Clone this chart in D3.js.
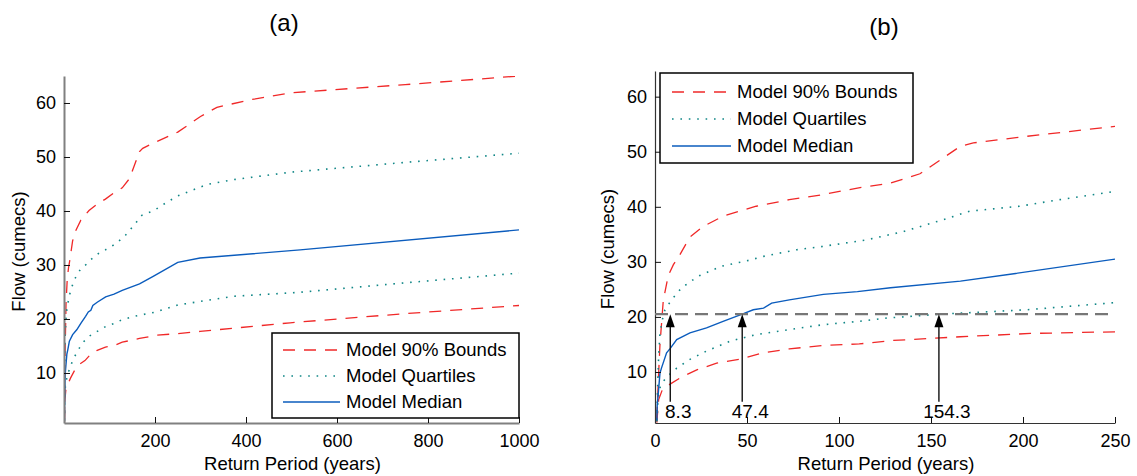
<!DOCTYPE html>
<html>
<head>
<meta charset="utf-8">
<script src="https://cdnjs.cloudflare.com/ajax/libs/d3/7.8.5/d3.min.js"></script>
<style>
  body { margin: 0; background: #fff; }
  svg { font-family: "Liberation Sans", Arial, sans-serif; }
</style>
</head>
<body>
<div class="container"></div>
<script>

// [return period (years), flow (cumecs)]
const upper90 = [[1,1.5],[1.8,8.5],[2.7,15],[4.5,23],[7.2,27.5],[10,29.5],[13,31],[19,34.5],[26,36.4],[37,38.3],[55,40.1],[73,41.3],[91,42.2],[110,43.4],[128,44.3],[144,46],[155,48.5],[166,51],[173,51.6],[202,52.8],[250,54.6],[300,57.5],[336,59.2],[410,60.6],[500,61.9],[750,63.4],[1000,65]];
const upperQuartile = [[1,1.3],[1.5,8],[2,13],[2.7,17],[4,19.5],[5.4,21.3],[9,23.1],[14.5,25.3],[23.5,27.4],[36,29.2],[50,30.2],[59,31],[77,32.2],[91,32.8],[115,34],[135,35.5],[157,37.7],[171,39.2],[198,40.1],[220,41.3],[250,42.8],[314,44.9],[372,45.8],[500,47.2],[750,49],[1000,50.7]];
const median = [[1,1.2],[1.2,4],[1.8,6.2],[2.7,9.8],[3.6,10.8],[6.3,13.5],[8.3,14.3],[11.8,15.9],[19,17.1],[28,18],[37,19.2],[47.4,20.5],[53.4,21.3],[59,21.6],[63.4,22.5],[73,23.1],[91.5,24.1],[110,24.6],[128,25.3],[166,26.5],[196,27.9],[250,30.5],[299,31.3],[519,32.8],[1000,36.5]];
const lowerQuartile = [[1,1],[1.5,4],[2,6],[3,7.5],[6,9],[11.8,10.7],[19,12.3],[28,13.8],[40.8,15.6],[55,16.8],[73,17.7],[91.5,18.6],[111,19.2],[126,19.8],[155,20.5],[202,21.3],[250,22.6],[372,24.2],[511,24.9],[750,26.7],[1000,28.5]];
const lower90 = [[1,0.8],[1.5,3],[2,5],[4,6.8],[8.2,7.8],[14,9],[22.7,10.4],[33.5,11.6],[46,12.3],[59,13.5],[73,14.2],[91,14.8],[111,15.1],[128,15.7],[166,16.4],[204,17],[250,17.3],[299,17.7],[497,19.3],[750,21],[1000,22.5]];

const legendNames = ["Model 90% Bounds", "Model Quartiles", "Model Median"];
const flowTicks = [10, 20, 30, 40, 50, 60];
const periodTicksA = [200, 400, 600, 800, 1000];
const periodTicksB = [0, 50, 100, 150, 200, 250];
const designFlow = 20.5;
const crossings = [8.3, 47.4, 154.3];
const crossingLabels = ["8.3", "47.4", "154.3"];

const width = 1137;
const height = 476;

const red = { stroke: "#f02828", dash: "12,9", w: 1.3 };
const teal = { stroke: "#118787", dash: "1.6,6.8", w: 1.6 };
const blue = { stroke: "#0b5cbd", dash: null, w: 1.4 };

const svg = d3.select(".container").append("svg")
    .attr("width", width)
    .attr("height", height);

function drawPanel(p) {
    const xScale = d3.scaleLinear().domain(p.xDomain).range([p.left, p.right]);
    const yScale = d3.scaleLinear().domain(p.yDomain).range([p.bottom, p.top]);

    const g = svg.append("g");

    g.append("clipPath").attr("id", "clip" + p.id)
        .append("rect")
        .attr("x", p.left).attr("y", p.top)
        .attr("width", p.right - p.left).attr("height", p.bottom - p.top);

    const line = d3.line().x(d => xScale(d[0])).y(d => yScale(d[1]));
    const keep = d => d.filter(v => v[0] <= p.xDomain[1]);

    const curves = [
        [upper90, red], [lower90, red],
        [upperQuartile, teal], [lowerQuartile, teal],
        [median, blue]
    ];

    const plot = g.append("g").attr("clip-path", `url(#clip${p.id})`);
    curves.forEach(c => {
        plot.append("path")
            .attr("d", line(keep(c[0])))
            .attr("fill", "none")
            .attr("stroke", c[1].stroke)
            .attr("stroke-width", c[1].w)
            .attr("stroke-dasharray", c[1].dash);
    });

    // axes, MATLAB-style inward ticks
    const xAxis = d3.axisBottom(xScale).tickValues(p.xTicks).tickFormat(d3.format("d"))
        .tickSizeInner(-6).tickSizeOuter(0).tickPadding(11);
    const yAxis = d3.axisLeft(yScale).tickValues(flowTicks).tickFormat(d3.format("d"))
        .tickSizeInner(-6).tickSizeOuter(0).tickPadding(8);

    const gx = g.append("g").attr("transform", `translate(0,${p.bottom})`).call(xAxis);
    const gy = g.append("g").attr("transform", `translate(${p.left},0)`).call(yAxis);

    [gx, gy].forEach(a => {
        a.select(".domain").attr("stroke", p.axisColor).attr("stroke-width", p.axisWidth);
        a.selectAll(".tick line").attr("stroke", "#111").attr("stroke-width", 1);
        a.selectAll(".tick text").attr("fill", "#000").style("font-size", "18px");
    });

    g.append("text")
        .attr("x", (p.left + p.right) / 2 + 1)
        .attr("y", 470)
        .attr("text-anchor", "middle")
        .style("font-size", "18.5px")
        .text("Return Period (years)");

    g.append("text")
        .attr("transform", `translate(${p.yLabelX},${(p.top + p.bottom) / 2 + 2}) rotate(-90)`)
        .attr("text-anchor", "middle")
        .style("font-size", "18.5px")
        .text("Flow (cumecs)");

    g.append("text")
        .attr("x", p.titleX)
        .attr("y", p.titleY)
        .attr("text-anchor", "middle")
        .style("font-size", "24px")
        .text(p.title);

    if (p.annotate) {
        g.append("line")
            .attr("x1", xScale(0)).attr("x2", xScale(p.xDomain[1]))
            .attr("y1", yScale(designFlow)).attr("y2", yScale(designFlow))
            .attr("stroke", "#777")
            .attr("stroke-width", 2.2)
            .attr("stroke-dasharray", "13,7");

        crossings.forEach((v, i) => {
            const x = xScale(v);
            const tip = yScale(designFlow);
            g.append("line")
                .attr("x1", x).attr("x2", x)
                .attr("y1", yScale(4.6)).attr("y2", tip + 10)
                .attr("stroke", "#111").attr("stroke-width", 1.4);
            g.append("path")
                .attr("d", `M${x},${tip} L${x - 4.5},${tip + 13} L${x + 4.5},${tip + 13} Z`)
                .attr("fill", "#000");
            g.append("text")
                .attr("x", x + 8)
                .attr("y", p.bottom - 5)
                .attr("text-anchor", "middle")
                .style("font-size", "19px")
                .text(crossingLabels[i]);
        });
    }

    // legend
    const L = p.legend;
    const lg = g.append("g");
    lg.append("rect")
        .attr("x", L.x).attr("y", L.y).attr("width", L.w).attr("height", L.h)
        .attr("fill", "#fff").attr("stroke", "#000").attr("stroke-width", 1.5);
    [red, teal, blue].forEach((s, i) => {
        const yy = L.rows[i];
        lg.append("line")
            .attr("x1", L.x0).attr("x2", L.x1)
            .attr("y1", yy).attr("y2", yy)
            .attr("stroke", s.stroke).attr("stroke-width", s.w)
            .attr("stroke-dasharray", s.dash);
        lg.append("text")
            .attr("x", L.tx).attr("y", yy).attr("dy", "0.35em")
            .style("font-size", "18.5px")
            .text(legendNames[i]);
    });
}

drawPanel({
    id: "a", title: "(a)", titleX: 284, titleY: 31,
    left: 64, right: 519, top: 76, bottom: 423,
    xDomain: [0, 1000], yDomain: [0.74, 65], xTicks: periodTicksA,
    axisColor: "#808080", axisWidth: 2, yLabelX: 25,
    annotate: false,
    legend: { x: 272, y: 333, w: 247, h: 85, x0: 283, x1: 340, tx: 346, rows: [350, 376, 402] }
});

drawPanel({
    id: "b", title: "(b)", titleX: 884, titleY: 35,
    left: 655, right: 1115, top: 71, bottom: 423,
    xDomain: [0, 250], yDomain: [0.74, 64.66], xTicks: periodTicksB,
    axisColor: "#333", axisWidth: 1.2, yLabelX: 614,
    annotate: true,
    legend: { x: 660, y: 73, w: 253, h: 90, x0: 672, x1: 731, tx: 737, rows: [92, 119, 146] }
});

</script>
</body>
</html>
